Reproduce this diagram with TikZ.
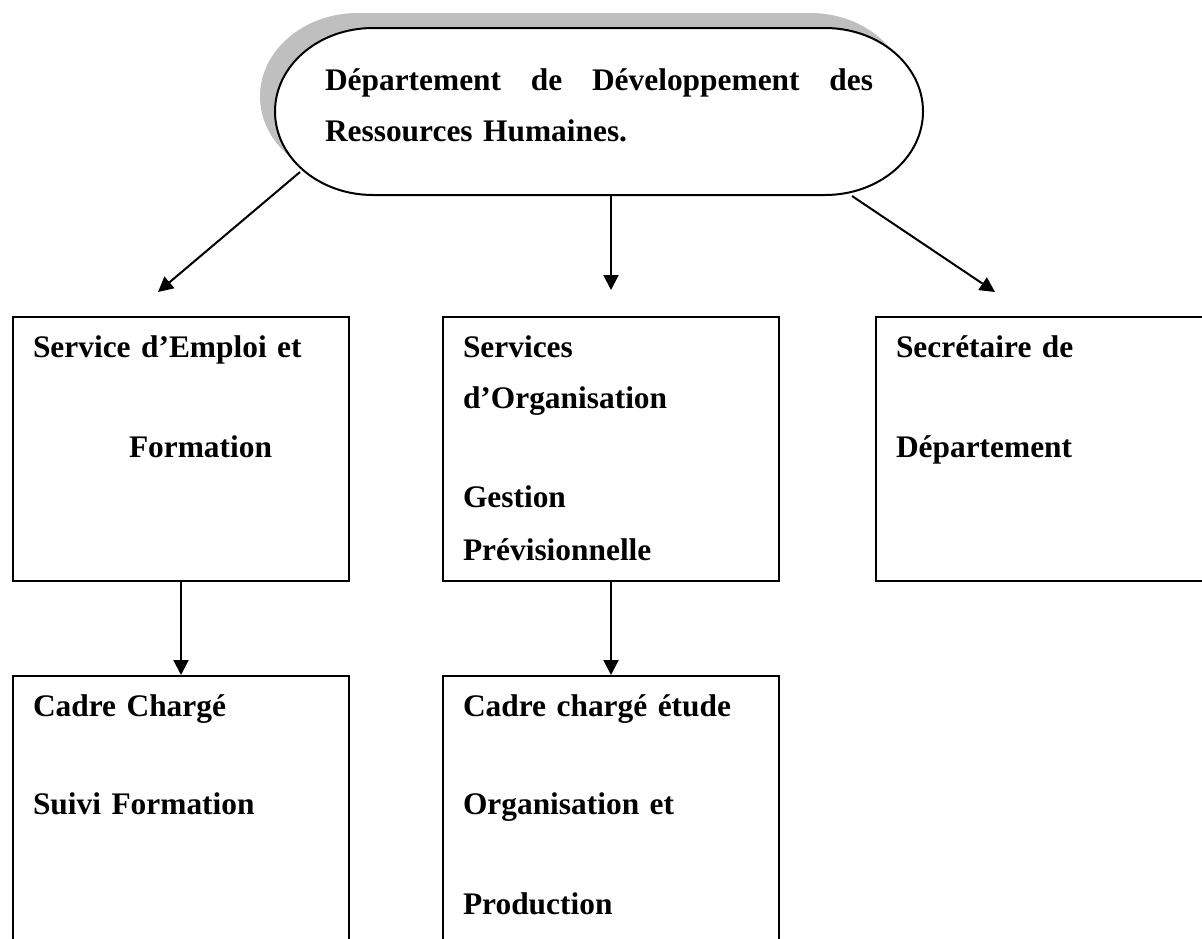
\documentclass[tikz,border=0pt]{standalone}
\usepackage{fontspec}
\setmainfont{Liberation Serif}
\usetikzlibrary{arrows.meta,positioning}

\begin{document}
\begin{tikzpicture}[x=0.5pt,y=0.5pt]
\tikzset{
  orgtext/.style={font=\fontsize{15.7}{25.5}\selectfont\bfseries},
  orgbox/.style={orgtext,rectangle,draw=black,line width=1pt,align=left,text width=148pt,inner xsep=10pt,inner ysep=0pt,text height=20pt,text depth=112pt},
  headshape/.style={draw=black,line width=1pt,fill=white,preaction={fill=black!25,transform canvas={shift={(-7.5pt,7.5pt)}}}},
  link/.style={draw=black,line width=1pt,-{Triangle[length=7.5pt,width=7.5pt]}}
}
\clip (0,0) rectangle (1202,-938);
\draw[headshape] (373,-28) -- (825,-28) arc[start angle=90,end angle=-90,x radius=98,y radius=83.5] -- (373,-195) arc[start angle=270,end angle=90,x radius=98,y radius=83.5] -- cycle;
\node[orgtext,text width=274pt,align=left,inner sep=0pt,anchor=base] (n_dept) at (599,-90) {Département\hfill de\hfill Développement\hfill des\\Ressources Humaines.};
\node[orgbox,anchor=north west] (n_emploi) at (12,-316) {Service d’Emploi et\\[24.5pt]\hspace*{48pt}Formation};
\node[orgbox,right=46pt of n_emploi] (n_org) {Services\\d’Organisation\\[24pt]Gestion\\[1pt]Prévisionnelle};
\node[orgbox,right=47.5pt of n_org] (n_secr) {Secrétaire de\\[24.5pt]Département};
\node[orgbox,below=46.5pt of n_emploi] (n_suivi) {Cadre Chargé\\[23.5pt]Suivi Formation};
\node[orgbox,below=46.5pt of n_org] (n_etude) {Cadre chargé étude\\[23.5pt]Organisation et\\[24.5pt]Production};
\coordinate (n_dept_l) at (300,-172);
\coordinate (n_dept_m) at (611,-195);
\coordinate (n_dept_r) at (852,-196);
\draw[link] (n_dept_l) -- ([shift={(-23,24)}]n_emploi.north);
\draw[link] (n_dept_m) -- ([shift={(0,26)}]n_org.north);
\draw[link] (n_dept_r) -- ([shift={(-49,24)}]n_secr.north);
\draw[link] (n_emploi) -- (n_suivi);
\draw[link] (n_org) -- (n_etude);
\end{tikzpicture}
\end{document}
